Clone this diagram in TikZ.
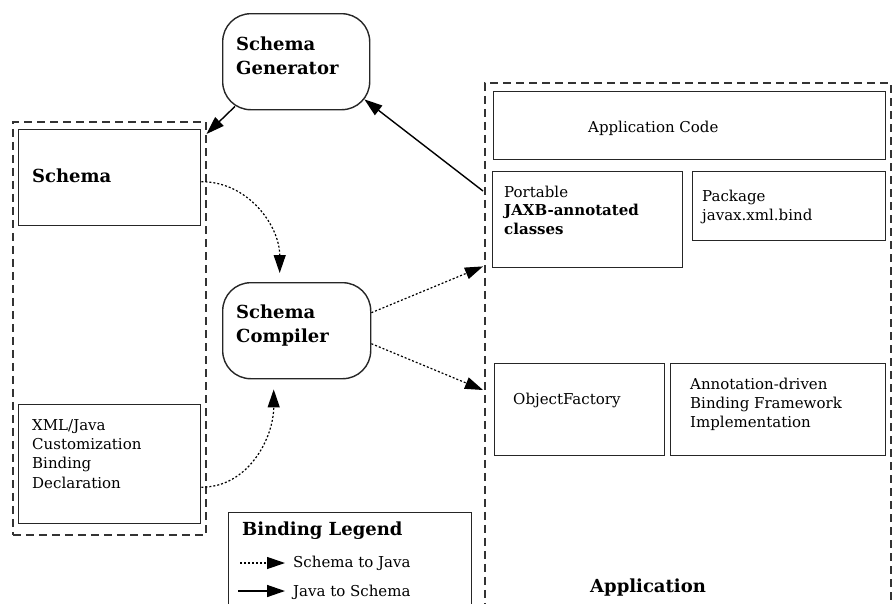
\documentclass[tikz,border=0pt]{standalone}
\usepackage{fontspec}
\setmainfont{DejaVu Serif}
\usetikzlibrary{arrows.meta, calc, positioning}

\begin{document}
\begin{tikzpicture}[x=1pt, y=-1pt, >={Triangle[length=18pt,width=12pt]},
  box/.style={draw=black!85, line width=1.4pt, inner sep=0, anchor=north west},
  rbox/.style={box, rounded corners=28pt},
  group/.style={box, draw=black!80, line width=1.5pt, dash pattern=on 8pt off 5pt},
  txt/.style={inner sep=0, anchor=base west, align=left, font=\fontsize{15}{19}\selectfont},
  btxt/.style={txt, font=\fontsize{18}{24}\selectfont\bfseries},
  s2j/.style={->, line width=1.2pt, dash pattern=on 2pt off 2pt},
  j2s/.style={->, line width=1.4pt}]
\useasboundingbox (0,0) rectangle (892,603);
\clip (0,0) rectangle (892,603);

% groups
\node[group, minimum width=193, minimum height=413] (leftgrp) at (12,121) {};
\node[group, minimum width=406, minimum height=540] (rightgrp) at (484,82) {};

% tools (multi-line labels sit on their last baseline)
\node[rbox, minimum width=147, minimum height=96] (gen) at (222,13) {};
\node[btxt] (genlbl) at (236,74) {Schema\\Generator};
\node[rbox, minimum width=148, minimum height=96] (comp) at (222,282) {};
\node[btxt] (complbl) at (236,342) {Schema\\Compiler};

% schema side
\node[box, minimum width=182, minimum height=96] (schema) at (18,129) {};
\node[btxt] (schemalbl) at (32,182) {Schema};
\node[box, minimum width=182, minimum height=119] (xml) at (18,404) {};
\node[txt, font=\fontsize{15}{19.3}\selectfont] (xmllbl) at (32,488) {XML/Java\\Customization\\Binding\\Declaration};

% application side
\node[box, minimum width=392, minimum height=68] (appcode) at (493,91) {};
\node[txt] (appcodelbl) at (588,132) {Application Code};
\node[box, minimum width=190, minimum height=96] (portable) at (492,171) {};
\node[txt, font=\fontsize{15}{18.5}\selectfont] (portablelbl) at (504,234) {Portable\\\textbf{JAXB-annotated}\\\textbf{classes}};
\node[box, minimum width=193, minimum height=69] (package) at (692,171) {};
\node[txt, font=\fontsize{15}{18.5}\selectfont] (packagelbl) at (702,220) {Package\\javax.xml.bind};
\node[box, minimum width=170, minimum height=92] (objfac) at (494,363) {};
\node[txt] (objfaclbl) at (513,404) {ObjectFactory};
\node[box, minimum width=215, minimum height=92] (annot) at (670,363) {};
\node[txt] (annotlbl) at (690,427) {Annotation-driven\\Binding Framework\\Implementation};
\node[btxt] (applbl) at (590,592) {Application};

% legend
\node[box, minimum width=243, minimum height=110] (legend) at (228,512) {};
\node[btxt] (legendlbl) at (242,535) {Binding Legend};
\node[txt] (s2jlbl) at (293,567) {Schema to Java};
\node[txt] (j2slbl) at (293,596) {Java to Schema};
\draw[s2j] ($(legend.north west)+(12,51)$) -- ($(legend.north west)+(57,51)$);
\draw[j2s] ($(legend.north west)+(10,79)$) -- ($(legend.north west)+(57,79)$);

% arrows
\draw[j2s] ($(gen.south west)+(13,-4)$) -- ($(leftgrp.north east)+(0,13)$);
\draw[j2s] ($(portable.north west)+(-9,20)$) -- ($(gen.south east)+(-6,-11)$);
\draw[s2j] ($(schema.east)+(0,4)$) to[out=0,in=90] ($(comp.north)+(-17,-9)$);
\draw[s2j] ($(xml.east)+(0,23)$) to[out=0,in=-90] ($(comp.south)+(-23,10)$);
\draw[s2j] ($(comp.east)+(0,-18)$) -- ($(portable.south west)+(-9,-2)$);
\draw[s2j] ($(comp.east)+(0,13)$) -- ($(objfac.north west)+(-11,27)$);
\end{tikzpicture}
\end{document}
